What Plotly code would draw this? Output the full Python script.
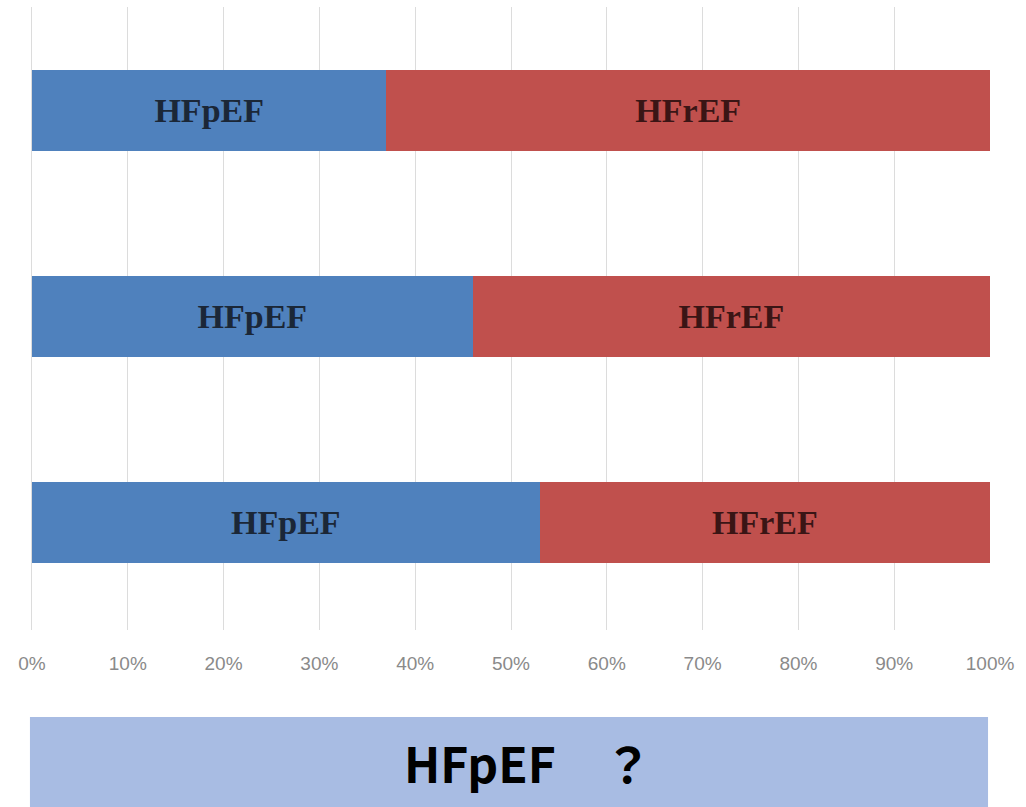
import plotly.graph_objects as go

# Three cohorts, share of HFpEF vs HFrEF (percent)
groups = ["群1", "群2", "群3"]
hfpef = [37, 46, 53]
hfref = [63, 54, 47]
labels_p = ["HFpEF", "HFpEF", "HFpEF"]
labels_r = ["HFrEF", "HFrEF", "HFrEF"]
tick_vals = [0, 10, 20, 30, 40, 50, 60, 70, 80, 90, 100]
tick_text = [f"{v}%" for v in tick_vals]
caption = "HFpEF　？"

W, H = 1026, 807
X_MIN, X_MAX = -0.1, 100.1
PX_PER_UNIT = 9.58
L = 32 + X_MIN * PX_PER_UNIT
plot_w = (X_MAX - X_MIN) * PX_PER_UNIT
R = W - L - plot_w
T, B = 7, 177
plot_h = H - T - B


def px_x(p):
    return (p - L) / plot_w


def px_y(p):
    return (H - B - p) / plot_h


blue = "#4f81bd"
red = "#c0504d"
serif = "Liberation Serif, Times New Roman, serif"

fig = go.Figure()
fig.add_trace(go.Bar(
    y=groups, x=hfpef, orientation="h", marker=dict(color=blue, line=dict(width=0)),
    text=labels_p, textposition="inside", insidetextanchor="middle",
    textfont=dict(family=serif, size=34, color="#1b2737", weight="bold"),
    width=0.39, hoverinfo="skip",
))
fig.add_trace(go.Bar(
    y=groups, x=hfref, orientation="h", marker=dict(color=red, line=dict(width=0)),
    text=labels_r, textposition="inside", insidetextanchor="middle",
    textfont=dict(family=serif, size=34, color="#3a1515", weight="bold"),
    width=0.39, hoverinfo="skip",
))

fig.update_layout(
    barmode="stack",
    width=W, height=H,
    margin=dict(l=L, r=R, t=T, b=B, pad=0),
    paper_bgcolor="white", plot_bgcolor="white",
    showlegend=False,
    xaxis=dict(
        range=[X_MIN, X_MAX], tickvals=tick_vals, ticktext=tick_text,
        showgrid=True, gridcolor="#dcdcdc", gridwidth=1,
        zeroline=True, zerolinecolor="#dcdcdc", zerolinewidth=1,
        showline=False, ticks="",
        tickfont=dict(family="Liberation Sans, Arial, sans-serif", size=19, color="#8a8a8a"),
        ticklabelstandoff=20,
        fixedrange=True,
    ),
    yaxis=dict(
        categoryorder="array", categoryarray=groups,
        range=[2.522, -0.502],
        showticklabels=False, showgrid=False, zeroline=False, showline=False,
        fixedrange=True,
    ),
)

# Caption banner below the chart
fig.add_shape(
    type="rect", xref="paper", yref="paper",
    x0=px_x(30), x1=px_x(988), y0=px_y(807), y1=px_y(717),
    fillcolor="#a8bce3", line=dict(width=0), layer="below",
)
fig.add_annotation(
    xref="paper", yref="paper", x=px_x(402), y=px_y(762),
    xanchor="left", yanchor="middle", showarrow=False,
    text=caption,
    font=dict(family="Noto Sans CJK JP", size=48, color="#000000", weight="bold"),
)

fig.write_html("out.html", config=dict(displayModeBar=False))
